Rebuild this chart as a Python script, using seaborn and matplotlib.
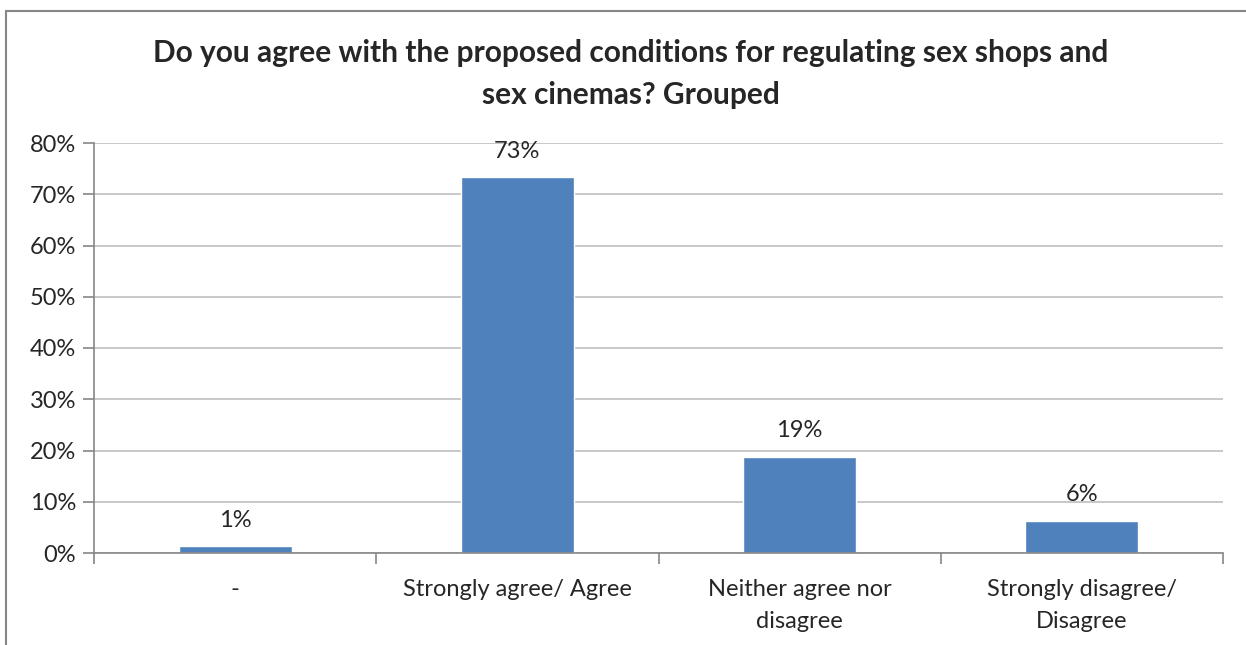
import numpy as np
import matplotlib
matplotlib.use('Agg')
import matplotlib.pyplot as plt
import seaborn as sns
from matplotlib.ticker import PercentFormatter, FixedLocator
from matplotlib.lines import Line2D

categories = ['-', 'Strongly agree/ Agree', 'Neither agree nor\ndisagree', 'Strongly disagree/\nDisagree']
values = [1.4, 73.4, 18.8, 6.3]
labels = ['1%', '73%', '19%', '6%']
yticks = [0, 10, 20, 30, 40, 50, 60, 70, 80]
title = 'Do you agree with the proposed conditions for regulating sex shops and\nsex cinemas? Grouped'

sns.set_style('white')
plt.rcParams['font.family'] = ['Lato', 'DejaVu Sans']

fig = plt.figure(figsize=(12.46, 6.45), dpi=100)
ax = fig.add_axes([94 / 1246, 1 - 553 / 645, (1223 - 94) / 1246, (553 - 143) / 645])

sns.barplot(x=categories, y=values, ax=ax, color='#4F81BD', saturation=1, width=0.4)

ax.set_ylim(0, 80)
ax.set_xlim(-0.5, len(categories) - 0.5)
ax.set_yticks(yticks)
ax.yaxis.set_major_formatter(PercentFormatter(decimals=0))
ax.yaxis.grid(True, color='#BFBFBF', linewidth=1.2)
ax.set_axisbelow(True)

for s in ['top', 'right']:
    ax.spines[s].set_visible(False)
for s in ['left', 'bottom']:
    ax.spines[s].set_color('#868686')
    ax.spines[s].set_linewidth(1.2)

ax.tick_params(axis='y', length=8, width=1.2, color='#868686', labelsize=17, pad=5, left=True)
ax.tick_params(axis='x', which='major', length=0, labelsize=17, pad=19)
ax.xaxis.set_minor_locator(FixedLocator(np.arange(-0.5, len(categories), 1.0)))
ax.tick_params(axis='x', which='minor', length=8, width=1.2, color='#868686', bottom=True)
for t in ax.get_xticklabels():
    t.set_verticalalignment('top')
    t.set_linespacing(1.6)

for i, (v, lab) in enumerate(zip(values, labels)):
    ax.annotate(lab, (i, v), xytext=(0, 11), textcoords='offset points',
                ha='center', va='bottom', fontsize=17)

ax.set_xlabel('')
ax.set_ylabel('')

fig.text(0.506, 1 - 74 / 645, title, ha='center', va='center', fontsize=21.5,
         fontweight='bold', linespacing=1.6)

# chart frame (only top and left edges are visible in the crop)
fig.add_artist(Line2D([6 / 1246, 1.0], [1 - 11 / 645, 1 - 11 / 645], transform=fig.transFigure,
                      color='#868686', linewidth=1.5))
fig.add_artist(Line2D([6 / 1246, 6 / 1246], [0.0, 1 - 11 / 645], transform=fig.transFigure,
                      color='#868686', linewidth=1.5))

fig.savefig('out.png', dpi=100)
